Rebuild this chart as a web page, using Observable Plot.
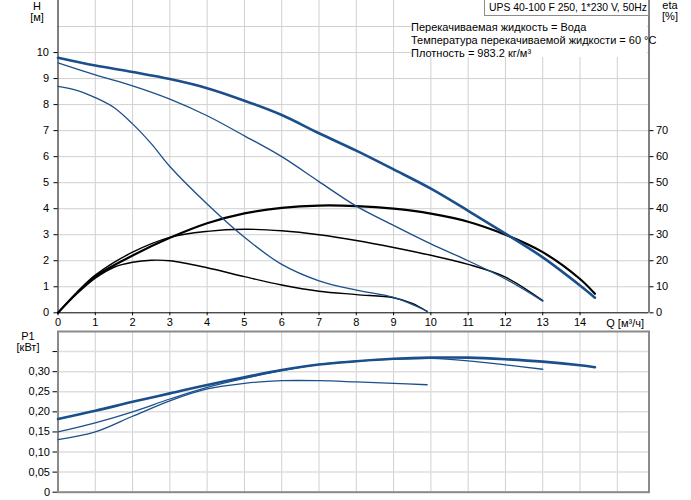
<!DOCTYPE html>
<html><head><meta charset="utf-8">
<script src="https://cdn.jsdelivr.net/npm/d3@7"></script>
<script src="https://cdn.jsdelivr.net/npm/@observablehq/plot@0.6"></script>
<style>
body{margin:0;background:#fff;font-family:"Liberation Sans",Arial,sans-serif;}
#wrap{position:relative;width:691px;height:500px;overflow:hidden;}
#wrap svg{display:block;}
.title{position:absolute;left:484px;top:-1px;width:159px;height:15px;border:1px solid #8c8c8c;background:#fff;font-size:10.4px;line-height:16px;padding-left:4px;white-space:nowrap;color:#000;}
.info{position:absolute;left:411px;top:0;width:236px;height:36px;padding-top:21px;background:#fff;font-size:11px;line-height:13px;white-space:nowrap;color:#000;}
.info div{height:13px;line-height:13px;}
</style></head><body><div id="wrap"></div>
<script>
// ---- data ----
const X_TICKS = [0,1,2,3,4,5,6,7,8,9,10,11,12,13,14];
const GRID_X = [1,2,3,4,5,6,7,8,9,10,11,12,13,14,15];
const H_TICKS = [0,1,2,3,4,5,6,7,8,9,10];
const H_GRID = [1,2,3,4,5,6,7,8,9,10,11];
const ETA_TICKS = [0,10,20,30,40,50,60,70];
const P_TICKS = [0,0.05,0.10,0.15,0.20,0.25,0.30,0.35];

// H curves [m]
const Q_H_MAX = [0,1,2,3,4,5,6,7,8,9,10,11,12,13,14,14.4];
const H_MAX   = [9.8,9.5,9.25,8.98,8.63,8.15,7.6,6.9,6.23,5.51,4.77,3.92,3.04,2.13,1.05,0.58];
const Q_H_MED = [0,1,2,3,4,5,6,7,8,9,10,11,12,13];
const H_MED   = [9.6,9.14,8.72,8.21,7.57,6.8,6.0,5.04,4.1,3.36,2.65,2.0,1.3,0.45];
const Q_H_LOW = [0,0.5,1,1.5,2,2.5,3,4,5,6,7,8,9,9.9];
const H_LOW   = [8.7,8.55,8.27,7.89,7.26,6.5,5.62,4.18,2.9,1.86,1.23,0.87,0.59,0.06];

// eta curves [%]
const Q_ETA_MAX = [0,0.5,1,2,3,4,5,6,7,8,9,10,11,12,13,14,14.4];
const ETA_MAX   = [0,7.5,14,22,28.8,34.4,38.2,40.3,41.2,41,40,38.1,35,30,23.3,13,7.3];
const Q_ETA_MED = [0,0.5,1,2,3,4,5,6,7,8,9,10,11,12,13];
const ETA_MED   = [0,7.8,14.5,23.3,29,31.3,32.1,31.5,30,27.8,25.1,22.1,18.6,13.7,4.7];
const Q_ETA_LOW = [0,0.5,1,1.5,2,2.5,3,4,5,6,7,8,9,9.5,9.9];
const ETA_LOW   = [0,7.2,13.3,17.5,19.4,20.2,20,17.3,13.9,10.7,8.3,7,5.8,3.6,0.5];

// P1 curves [kW]
const Q_P_MAX = [0,1,2,3,4,5,6,7,8,9,10,11,12,13,14,14.4];
const P_MAX   = [0.182,0.2025,0.225,0.246,0.267,0.286,0.304,0.318,0.326,0.332,0.335,0.335,0.331,0.325,0.316,0.311];
const Q_P_MED = [0,1,2,3,4,5,6,7,8,9,10,11,12,13];
const P_MED   = [0.15,0.1725,0.2,0.232,0.261,0.2835,0.3025,0.318,0.326,0.331,0.333,0.327,0.317,0.306];
const Q_P_LOW = [0,1,2,3,4,5,6,7,8,9,9.9];
const P_LOW   = [0.131,0.15,0.189,0.2275,0.257,0.271,0.2775,0.2775,0.2745,0.271,0.2675];

const TITLE = "UPS 40-100 F 250, 1*230 V, 50Hz";
const INFO = ["Перекачиваемая жидкость = Вода","Температура перекачиваемой жидкости = 60 °C","Плотность = 983.2 кг/м³"];

// ---- build ----
const rows = (q, v) => q.map((x, i) => ({q: x, v: v[i]}));
const X_END = 15.85;
const BLUE = "#1b4f8c";
const GRID = "#d0d0d0";
const FONT = {fontFamily: "'Liberation Sans', Arial, sans-serif", fontSize: "11px", background: "white", overflow: "visible"};

const topChart = Plot.plot({
  width: 691, height: 330,
  marginLeft: 57.5, marginRight: 42.5, marginTop: 0, marginBottom: 17.7,
  style: FONT,
  x: {domain: [0, X_END]},
  y: {domain: [0, 12]},
  marks: [
    Plot.gridX(GRID_X, {stroke: GRID, strokeOpacity: 1}),
    Plot.gridY(H_GRID, {stroke: GRID, strokeOpacity: 1}),
    Plot.axisX(X_TICKS, {tickSize: 3, tickPadding: 2, fontSize: 11, label: null}),
    Plot.axisY(H_TICKS, {anchor: "left", tickSize: 4, tickPadding: 5, fontSize: 11, label: null}),
    Plot.axisY(ETA_TICKS.map(e => e / 10), {anchor: "right", tickSize: 4, tickPadding: 3, fontSize: 11, label: null, tickFormat: d => String(Math.round(d * 10))}),
    Plot.ruleX([0], {stroke: "#000"}),
    Plot.ruleX([X_END], {stroke: "#000"}),
    Plot.ruleY([0], {stroke: "#000"}),
    Plot.line(rows(Q_ETA_LOW, ETA_LOW), {x: "q", y: d => d.v / 10, stroke: "#000", strokeWidth: 1.4, curve: "catmull-rom"}),
    Plot.line(rows(Q_ETA_MED, ETA_MED), {x: "q", y: d => d.v / 10, stroke: "#000", strokeWidth: 1.4, curve: "catmull-rom"}),
    Plot.line(rows(Q_ETA_MAX, ETA_MAX), {x: "q", y: d => d.v / 10, stroke: "#000", strokeWidth: 2.2, curve: "catmull-rom"}),
    Plot.line(rows(Q_H_LOW, H_LOW), {x: "q", y: "v", stroke: BLUE, strokeWidth: 1.3, curve: "catmull-rom"}),
    Plot.line(rows(Q_H_MED, H_MED), {x: "q", y: "v", stroke: BLUE, strokeWidth: 1.3, curve: "catmull-rom"}),
    Plot.line(rows(Q_H_MAX, H_MAX), {x: "q", y: "v", stroke: BLUE, strokeWidth: 2.6, curve: "catmull-rom"}),
    Plot.text(["H\n[м]"], {frameAnchor: "top-left", dx: -21, dy: 1, lineAnchor: "top", lineHeight: 1.05, textAnchor: "middle", fontSize: 11}),
    Plot.text(["eta\n[%]"], {frameAnchor: "top-right", dx: 21, dy: 1, lineAnchor: "top", lineHeight: 1.0, textAnchor: "middle", fontSize: 11}),
    Plot.text(["Q [м³/ч]"], {frameAnchor: "bottom-right", dx: -5, dy: 10.5, lineAnchor: "middle", textAnchor: "end", fontSize: 11})
  ]
});

const pFmt = d => d === 0 ? "0" : (Math.abs(d - 0.35) < 1e-9 ? "" : d.toFixed(2).replace(".", ","));

const bottomChart = Plot.plot({
  width: 691, height: 170,
  marginLeft: 57.5, marginRight: 42.5, marginTop: 1, marginBottom: 8.3,
  style: FONT,
  x: {domain: [0, X_END], axis: null},
  y: {domain: [0, 0.4]},
  marks: [
    Plot.gridX(GRID_X, {stroke: GRID, strokeOpacity: 1}),
    Plot.gridY(P_TICKS, {stroke: "#dedede", strokeOpacity: 1, strokeWidth: 1.5}),
    Plot.axisY(P_TICKS, {anchor: "left", tickSize: 5, tickPadding: 3, fontSize: 11, label: null, tickFormat: pFmt}),
    Plot.frame({stroke: "#8a8a8a", strokeWidth: 2}),
    Plot.line(rows(Q_P_LOW, P_LOW), {x: "q", y: "v", stroke: BLUE, strokeWidth: 1.3, curve: "catmull-rom"}),
    Plot.line(rows(Q_P_MED, P_MED), {x: "q", y: "v", stroke: BLUE, strokeWidth: 1.3, curve: "catmull-rom"}),
    Plot.line(rows(Q_P_MAX, P_MAX), {x: "q", y: "v", stroke: BLUE, strokeWidth: 2.6, curve: "catmull-rom"}),
    Plot.text(["P1\n[кВт]"], {frameAnchor: "top-left", dx: -30, dy: 0, lineAnchor: "top", lineHeight: 1.05, textAnchor: "middle", fontSize: 11})
  ]
});

const wrap = document.getElementById("wrap");
wrap.appendChild(topChart);
wrap.appendChild(bottomChart);
const info = document.createElement("div");
info.className = "info";
info.innerHTML = INFO.map(s => `<div>${s}</div>`).join("");
wrap.appendChild(info);
const title = document.createElement("div");
title.className = "title";
title.textContent = TITLE;
wrap.appendChild(title);
</script>
</body></html>
